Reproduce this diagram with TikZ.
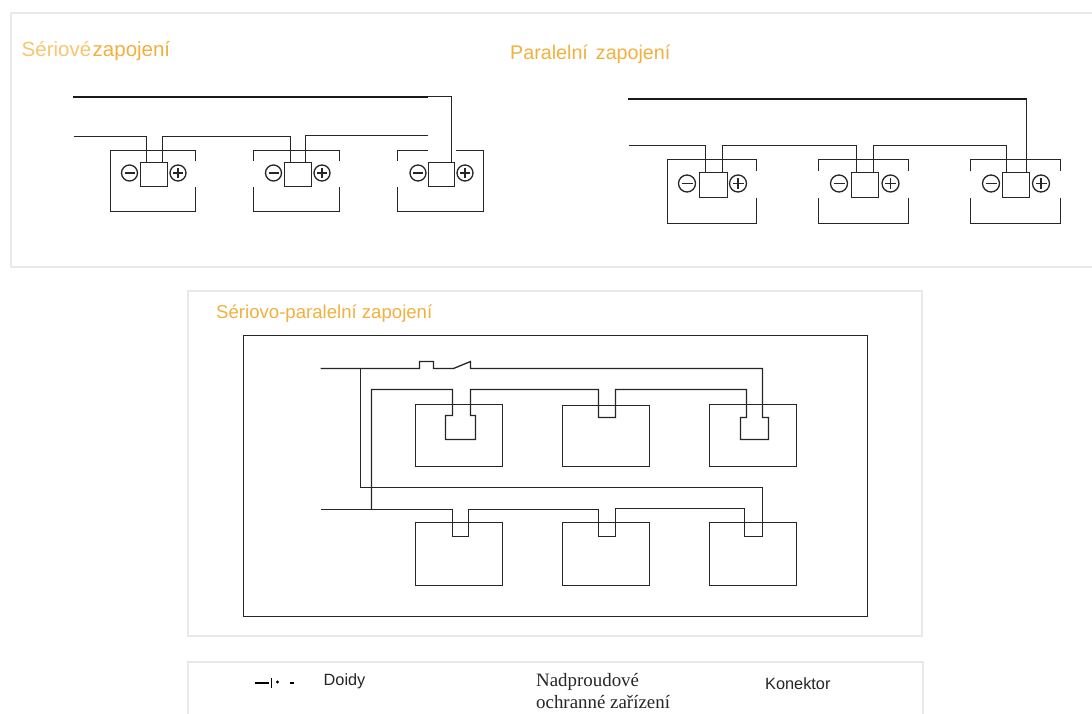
\documentclass[tikz,border=0pt]{standalone}
\usepackage{fontspec}
\setmainfont{Liberation Sans}
\newfontfamily\serifface{Liberation Serif}
\definecolor{panelgray}{HTML}{E9E9E9}
\definecolor{titleorange}{HTML}{F2B03F}
\definecolor{titlelight}{HTML}{F8C670}
\definecolor{wire}{HTML}{262626}
\tikzset{
  panel/.style={draw=panelgray,line width=2pt},
  wireline/.style={draw=wire,line width=1.3pt,line join=miter},
  thickwire/.style={draw=black!90,line width=2.2pt},
  termcircle/.style={draw=wire,line width=1.3pt,fill=white},
  titletext/.style={inner sep=0pt,anchor=west,text=titleorange},
  legendtext/.style={inner sep=0pt,anchor=west,text=black!85,font=\fontsize{16.3}{18}\selectfont},
  legendserif/.style={inner sep=0pt,anchor=west,text=black!85,font=\serifface\fontsize{18.9}{20}\selectfont},
}
% terminal pair: minus circle centre, plus circle centre, y, radius
\newcommand{\terminals}[4]{%
  \draw[termcircle] (#1,#3) circle (#4);
  \draw[wireline] (#1-#4+3,#3) -- (#1+#4-3,#3);
  \draw[termcircle] (#2,#3) circle (#4);
  \draw[wireline] (#2-#4+3,#3) -- (#2+#4-3,#3) (#2,#3-#4+3) -- (#2,#3+#4-3);
}
\begin{document}
\begin{tikzpicture}[x=1pt,y=-1pt]
\useasboundingbox (0,0) rectangle (1092,714);
\fill[white] (0,0) rectangle (1092,714);
% panels
\draw[panel] (1093,13) -- (10.5,13) -- (10.5,267) -- (1093,267);
\draw[panel] (187.5,291) rectangle (922,636);
\draw[panel] (188,715) -- (188,662) -- (923,662) -- (923,715);
% titles
\node[titletext,font=\fontsize{20.5}{22}\selectfont] (t1) at (21.5,51) {\textcolor{titlelight}{Sériové}\hspace{1.5pt}zapojení};
\node[titletext,font=\fontsize{19.7}{22}\selectfont] (t2) at (510,54) {Paralelní\hspace{2.5pt} zapojení};
\node[titletext,font=\fontsize{18.6}{21}\selectfont] (t3) at (216,314) {Sériovo-paralelní zapojení};

% ---- serial ----
\draw[thickwire] (73,97) -- (428,97);
\draw[wireline] (427.5,96.5) -- (451.5,96.5) -- (451.5,162.5);
\draw[wireline] (73.5,136.5) -- (146.5,136.5) -- (146.5,162.5);
\draw[wireline] (162.5,162.5) -- (162.5,136.5) -- (290.5,136.5) -- (290.5,162.5);
\draw[wireline] (305.5,162.5) -- (305.5,135.5) -- (427.5,135.5);
% batteries
\draw[wireline] (195.5,161.5) -- (195.5,150.5) -- (110.5,150.5) -- (110.5,211.5) -- (195.5,211.5) -- (195.5,187.5);
\draw[wireline] (339.5,161.5) -- (339.5,150.5) -- (253.5,150.5) -- (253.5,161.5);
\draw[wireline] (339.5,187.5) -- (339.5,211.5) -- (253.5,211.5) -- (253.5,187.5);
\draw[wireline] (427.5,150.5) -- (397.5,150.5) -- (397.5,161.5);
\draw[wireline] (455.5,150.5) -- (483.5,150.5) -- (483.5,211.5) -- (397.5,211.5) -- (397.5,187.5);
\terminals{129.5}{178}{173}{8}
\terminals{273.5}{322}{173}{8}
\terminals{418}{465}{173}{8}
\draw[wireline,fill=white] (140.5,162.5) rectangle (167.5,186.5);
\draw[wireline,fill=white] (284.5,162.5) rectangle (311.5,186.5);
\draw[wireline,fill=white] (428.5,162.5) rectangle (454.5,186.5);

% ---- parallel ----
\draw[thickwire] (628,99) -- (1027,99);
\draw[wireline] (1026.5,99) -- (1026.5,172.5);
\draw[wireline] (628.5,145.5) -- (705.5,145.5) -- (705.5,172.5);
\draw[wireline] (722.5,172.5) -- (722.5,145.5) -- (856.5,145.5) -- (856.5,172.5);
\draw[wireline] (873.5,172.5) -- (873.5,145.5) -- (1006.5,145.5) -- (1006.5,172.5);
\draw[wireline] (756.5,171.5) -- (756.5,159.5) -- (667.5,159.5) -- (667.5,223.5) -- (756.5,223.5) -- (756.5,198.5);
\draw[wireline] (908.5,171.5) -- (908.5,159.5) -- (818.5,159.5) -- (818.5,171.5);
\draw[wireline] (908.5,198.5) -- (908.5,223.5) -- (818.5,223.5) -- (818.5,198.5);
\draw[wireline] (1060.5,198.5) -- (1060.5,223.5) -- (970.5,223.5) -- (970.5,198.5);
\draw[wireline] (970.5,171.5) -- (970.5,159.5) -- (1060.5,159.5) -- (1060.5,171.5);
\terminals{687}{738}{183.5}{8.5}
\terminals{839}{890.5}{183.5}{8.5}
\terminals{991}{1041}{183.5}{8.5}
\draw[wireline,fill=white] (699.5,172.5) rectangle (727.5,197.5);
\draw[wireline,fill=white] (851.5,172.5) rectangle (878.5,197.5);
\draw[wireline,fill=white] (1002.5,172.5) rectangle (1029.5,197.5);

% ---- series-parallel ----
\draw[wireline] (243.5,335.5) rectangle (867.5,616.5);
% batteries top row
\draw[wireline] (415.5,404.5) rectangle (502.5,466.5);
\draw[wireline] (562.5,405.5) rectangle (649.5,466.5);
\draw[wireline] (709.5,404.5) rectangle (796.5,466.5);
% batteries bottom row
\draw[wireline] (415.5,522.5) rectangle (502.5,585.5);
\draw[wireline] (562.5,522.5) rectangle (649.5,585.5);
\draw[wireline] (709.5,522.5) rectangle (796.5,585.5);
% top wire with fuse, switch, connectors
\draw[wireline] (320.5,368.5) -- (419.5,368.5) -- (419.5,361.5) -- (433.5,361.5) -- (433.5,368.5) -- (453.5,368.5)
  -- (470.5,361.5) -- (470.5,368.5) -- (762.5,368.5) -- (762.5,417.5) -- (768.5,417.5) -- (768.5,439.5)
  -- (740.5,439.5) -- (740.5,417.5) -- (746.5,417.5) -- (746.5,389.5) -- (615.5,389.5)
  -- (615.5,417.5) -- (598.5,417.5) -- (598.5,389.5) -- (470.5,389.5) -- (470.5,415.5) -- (475.5,415.5)
  -- (475.5,439.5) -- (445.5,439.5) -- (445.5,415.5) -- (452.5,415.5) -- (452.5,389.5) -- (371.5,389.5)
  -- (371.5,509.5);
% lower loop
\draw[wireline] (360.5,368.5) -- (360.5,487.5) -- (762.5,487.5) -- (762.5,536.5) -- (744.5,536.5)
  -- (744.5,508.5) -- (615.5,508.5) -- (615.5,536.5) -- (598.5,536.5) -- (598.5,509.5) -- (468.5,509.5)
  -- (468.5,536.5) -- (452.5,536.5) -- (452.5,509.5) -- (320.5,509.5);

% ---- legend ----
\draw[draw=black,line width=2pt] (254.5,683) -- (269,683);
\draw[draw=black,line width=1.2pt] (271.5,678) -- (271.5,688);
\fill[black] (277.5,682) circle (1.6);
\draw[draw=black,line width=2pt] (289.5,683) -- (293.5,683);
\node[legendtext] (l1) at (323.5,681) {Doidy};
\node[legendserif] (l2) at (536,682) {Nadproudové};
\node[legendserif] (l3) at (536,702.5) {ochranné zařízení};
\node[legendtext] (l4) at (765,684) {Konektor};
\end{tikzpicture}
\end{document}
